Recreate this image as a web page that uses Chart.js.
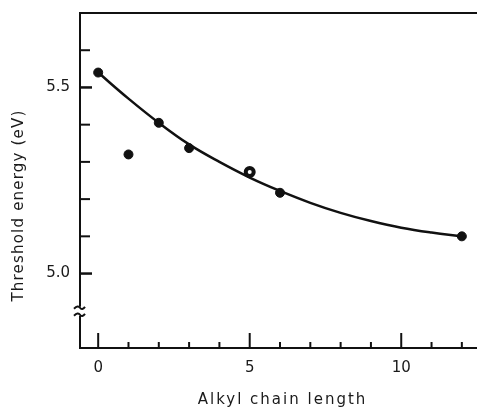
<!DOCTYPE html>
<html>
<head>
<meta charset="utf-8">
<script src="https://cdn.jsdelivr.net/npm/chart.js@4"></script>
<style>
  html, body { margin: 0; padding: 0; background: #fff; }
  #wrap { width: 477px; height: 412px; }
</style>
</head>
<body>
<div id="wrap"><canvas id="chart" width="477" height="412"></canvas></div>
<script>
// measured points
let chainLength = [0, 1, 2, 3, 5, 6, 12];
let threshold = [5.54, 5.32, 5.405, 5.337, 5.273, 5.217, 5.10];
let openPoint = [false, false, false, false, true, false, false];

// fitted curve
let fitX = [0, 1, 2, 3, 4, 5, 6, 7, 8, 9, 10, 11, 12];
let fitY = [5.54, 5.47, 5.405, 5.347, 5.30, 5.258, 5.222, 5.19, 5.163, 5.141, 5.123, 5.11, 5.10];

// ticks
let xTicks = [0, 1, 2, 3, 4, 5, 6, 7, 8, 9, 10, 11, 12];
let xTickLabels = [0, 5, 10];
let yTicks = [5.0, 5.1, 5.2, 5.3, 5.4, 5.5, 5.6];
let yTickLabels = [5.0, 5.5];
let yBreak = 4.9;

let xTitle = "Alkyl chain length";
let yTitle = "Threshold energy (eV)";

const FONT = "'DejaVu Sans', sans-serif";
const INK = "#111";

function line(ctx, x1, y1, x2, y2) {
    ctx.beginPath();
    ctx.moveTo(x1, y1);
    ctx.lineTo(x2, y2);
    ctx.stroke();
}

// axes frame, inward ticks, axis break and titles
let framePlugin = {
    id: "frame",
    afterDraw(chart) {
        let ctx = chart.ctx;
        let a = chart.chartArea;
        let x = chart.scales.x;
        let y = chart.scales.y;
        ctx.save();
        ctx.strokeStyle = INK;
        ctx.lineWidth = 2;
        ctx.lineCap = "butt";

        line(ctx, a.left, a.top, a.right, a.top);
        line(ctx, a.left - 1, a.bottom, a.right, a.bottom);

        let by = y.getPixelForValue(yBreak);
        line(ctx, a.left, a.top - 1, a.left, by - 4);
        line(ctx, a.left, by + 5, a.left, a.bottom);

        // break marks
        [by - 3, by + 4].forEach(yy => {
            ctx.beginPath();
            ctx.moveTo(a.left - 6, yy + 1);
            ctx.quadraticCurveTo(a.left - 2, yy - 3, a.left, yy);
            ctx.quadraticCurveTo(a.left + 2, yy + 3, a.left + 5, yy - 1);
            ctx.stroke();
        });

        xTicks.forEach(v => {
            let px = x.getPixelForValue(v);
            let len = xTickLabels.includes(v) ? 15 : 6;
            line(ctx, px, a.bottom, px, a.bottom - len);
        });

        yTicks.forEach(v => {
            let py = y.getPixelForValue(v);
            let major = yTickLabels.includes(v);
            ctx.lineWidth = major ? 2.5 : 2;
            line(ctx, a.left, py, a.left + (major ? 12 : 10), py);
        });

        ctx.fillStyle = "#1a1a1a";
        ctx.font = "15px " + FONT;
        ctx.letterSpacing = "2px";
        ctx.textAlign = "center";
        ctx.textBaseline = "middle";
        ctx.fillText(xTitle, (a.left + a.right) / 2 + 4, 400);

        ctx.translate(19, (a.top + a.bottom) / 2 + 25);
        ctx.rotate(-Math.PI / 2);
        ctx.letterSpacing = "1.2px";
        ctx.fillText(yTitle, 0, 0);
        ctx.restore();
    }
};

function noPad(scale) {
    scale.paddingTop = 0;
    scale.paddingBottom = 0;
    scale.paddingLeft = 0;
    scale.paddingRight = 0;
}

let chart = new Chart(document.getElementById("chart"), {
    type: "scatter",
    data: {
        datasets: [
            {
                label: "Measured",
                data: chainLength.map((c, i) => ({ x: c, y: threshold[i] })),
                pointRadius: openPoint.map(o => o ? 4 : 4.5),
                pointBorderWidth: openPoint.map(o => o ? 4 : 1),
                pointBackgroundColor: openPoint.map(o => o ? "#fff" : INK),
                pointBorderColor: INK,
                showLine: false,
                order: 0
            },
            {
                label: "Fit",
                data: fitX.map((c, i) => ({ x: c, y: fitY[i] })),
                showLine: true,
                borderColor: INK,
                borderWidth: 2.5,
                pointRadius: 0,
                tension: 0.4,
                order: 1
            }
        ]
    },
    options: {
        responsive: false,
        animation: false,
        devicePixelRatio: 1,
        layout: { autoPadding: false, padding: { top: 13, right: 0, left: 0, bottom: 0 } },
        plugins: {
            legend: { display: false },
            tooltip: { enabled: false }
        },
        scales: {
            x: {
                type: "linear",
                min: -0.6,
                max: 12.5,
                grid: { display: false, drawTicks: false },
                border: { display: false },
                afterFit(scale) { scale.height = 64; noPad(scale); },
                afterBuildTicks(scale) {
                    scale.ticks = xTickLabels.map(v => ({ value: v }));
                },
                ticks: {
                    padding: 11,
                    color: "#1a1a1a",
                    font: { family: FONT, size: 15 },
                    callback: v => String(v)
                }
            },
            y: {
                type: "linear",
                min: 4.8,
                max: 5.7,
                grid: { display: false, drawTicks: false },
                border: { display: false },
                afterFit(scale) { scale.width = 80; noPad(scale); },
                afterBuildTicks(scale) {
                    scale.ticks = yTickLabels.map(v => ({ value: v }));
                },
                ticks: {
                    padding: 10,
                    color: "#1a1a1a",
                    font: { family: FONT, size: 15 },
                    callback: v => v.toFixed(1)
                }
            }
        }
    },
    plugins: [framePlugin]
});
</script>
</body>
</html>
